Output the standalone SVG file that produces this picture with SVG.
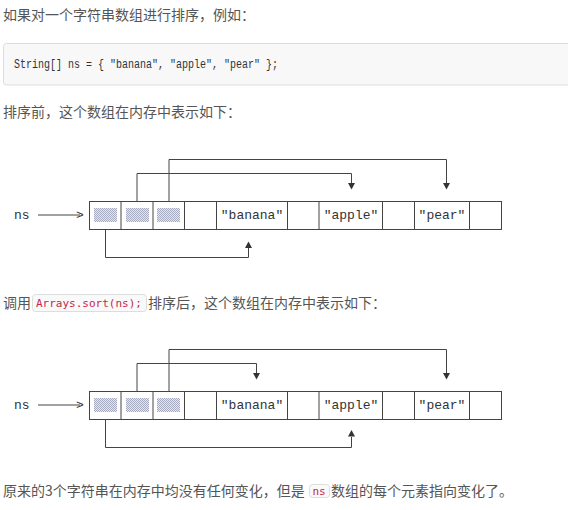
<svg xmlns="http://www.w3.org/2000/svg" width="568" height="510" viewBox="0 0 568 510">
<style>
.p{font-family:"Noto Sans CJK SC","Noto Sans",sans-serif;font-size:14px;fill:#555}
.code{font-family:"Liberation Mono",monospace;font-size:12.5px;fill:#333}
.ic{font-family:"DejaVu Sans Mono",monospace;font-size:11px;fill:#c7254e}
.icbox{fill:#f9f9f9;stroke:#ddd;stroke-width:1}
.cell{fill:none;stroke:#444;stroke-width:1}
.lbl{font-family:"Liberation Mono",monospace;font-size:13px;fill:#333}
.ln{fill:none;stroke:#444;stroke-width:1}
.ah{fill:#333}
</style>
<defs>
<pattern id="dots" width="2" height="2" patternUnits="userSpaceOnUse">
<rect width="2" height="2" fill="#ece4e0"/>
<rect width="1" height="1" fill="#a8acc0"/>
<rect x="1" y="1" width="1" height="1" fill="#d4a47c"/>
</pattern>
</defs>

<g id="text-intro">
<text class="p" x="3" y="20">如果对一个字符串数组进行排序，例如：</text>
</g>
<g id="code-block">
<rect x="3.5" y="43.5" width="570" height="41.5" rx="3" fill="#f8f8f8" stroke="#ddd"/>
<text class="code" x="14" y="68" textLength="264" lengthAdjust="spacingAndGlyphs">String[] ns = { "banana", "apple", "pear" };</text>
</g>
<g id="text-before">
<text class="p" x="3" y="117">排序前，这个数组在内存中表示如下：</text>
</g>

<g id="array-before">
<text class="lbl" x="14" y="219">ns</text>
<line class="ln" x1="38" y1="215" x2="80" y2="215"/>
<text class="lbl" x="76" y="219">&gt;</text>
<rect class="cell" x="89.5" y="201.5" width="412" height="28"/>
<line class="cell" x1="121" y1="201.5" x2="121" y2="229.5"/>
<line class="cell" x1="153" y1="201.5" x2="153" y2="229.5"/>
<line class="cell" x1="184.5" y1="201.5" x2="184.5" y2="229.5"/>
<line class="cell" x1="216.5" y1="201.5" x2="216.5" y2="229.5"/>
<line class="cell" x1="287.5" y1="201.5" x2="287.5" y2="229.5"/>
<line class="cell" x1="319" y1="201.5" x2="319" y2="229.5"/>
<line class="cell" x1="382.5" y1="201.5" x2="382.5" y2="229.5"/>
<line class="cell" x1="414.5" y1="201.5" x2="414.5" y2="229.5"/>
<line class="cell" x1="469.5" y1="201.5" x2="469.5" y2="229.5"/>
<rect x="94" y="208" width="23" height="14" fill="url(#dots)"/>
<rect x="126" y="208" width="23" height="14" fill="url(#dots)"/>
<rect x="157" y="208" width="23" height="14" fill="url(#dots)"/>
<text class="lbl" x="252" y="219" text-anchor="middle">"banana"</text>
<text class="lbl" x="351" y="219" text-anchor="middle">"apple"</text>
<text class="lbl" x="442" y="219" text-anchor="middle">"pear"</text>
</g>

<g id="text-after">
<text class="p" x="3" y="308">调用</text>
<rect class="icbox" x="32.5" y="294.5" width="114" height="17" rx="3"/>
<text class="ic" x="36" y="307" textLength="106" lengthAdjust="spacingAndGlyphs">Arrays.sort(ns);</text>
<text class="p" x="148" y="308">排序后，这个数组在内存中表示如下：</text>
</g>

<g id="array-after">
<text class="lbl" x="14" y="409">ns</text>
<line class="ln" x1="38" y1="405" x2="80" y2="405"/>
<text class="lbl" x="76" y="409">&gt;</text>
<rect class="cell" x="89.5" y="391.5" width="412" height="28"/>
<line class="cell" x1="121" y1="391.5" x2="121" y2="419.5"/>
<line class="cell" x1="153" y1="391.5" x2="153" y2="419.5"/>
<line class="cell" x1="184.5" y1="391.5" x2="184.5" y2="419.5"/>
<line class="cell" x1="216.5" y1="391.5" x2="216.5" y2="419.5"/>
<line class="cell" x1="287.5" y1="391.5" x2="287.5" y2="419.5"/>
<line class="cell" x1="319" y1="391.5" x2="319" y2="419.5"/>
<line class="cell" x1="382.5" y1="391.5" x2="382.5" y2="419.5"/>
<line class="cell" x1="414.5" y1="391.5" x2="414.5" y2="419.5"/>
<line class="cell" x1="469.5" y1="391.5" x2="469.5" y2="419.5"/>
<rect x="94" y="398" width="23" height="14" fill="url(#dots)"/>
<rect x="126" y="398" width="23" height="14" fill="url(#dots)"/>
<rect x="157" y="398" width="23" height="14" fill="url(#dots)"/>
<text class="lbl" x="252" y="409" text-anchor="middle">"banana"</text>
<text class="lbl" x="351" y="409" text-anchor="middle">"apple"</text>
<text class="lbl" x="442" y="409" text-anchor="middle">"pear"</text>
</g>

<g id="connectors">
<polyline class="ln" points="105.5,229.5 105.5,257.5 248.5,257.5 248.5,247"/>
<polygon class="ah" points="248.5,241.5 245,248 252,248"/>
<polyline class="ln" points="137,201.5 137,173.5 351.5,173.5 351.5,183.5"/>
<polygon class="ah" points="348,183 355,183 351.5,189.5"/>
<polyline class="ln" points="169,201.5 169,159.5 446.5,159.5 446.5,183.5"/>
<polygon class="ah" points="443,183 450,183 446.5,189.5"/>

<polyline class="ln" points="105.5,419.5 105.5,447.5 351.5,447.5 351.5,437"/>
<polygon class="ah" points="351.5,430 348,436.5 355,436.5"/>
<polyline class="ln" points="137,391.5 137,363.5 256.5,363.5 256.5,373.5"/>
<polygon class="ah" points="253,373 260,373 256.5,379.5"/>
<polyline class="ln" points="169,391.5 169,349.5 446.5,349.5 446.5,373.5"/>
<polygon class="ah" points="443,373 450,373 446.5,379.5"/>
</g>

<g id="text-conclusion">
<text class="p" x="3" y="496">原来的3个字符串在内存中均没有任何变化，但是</text>
<rect class="icbox" x="309.5" y="484.5" width="20" height="13" rx="3"/>
<text class="ic" x="312.5" y="495">ns</text>
<text class="p" x="331" y="496">数组的每个元素指向变化了。</text>
</g>
</svg>
